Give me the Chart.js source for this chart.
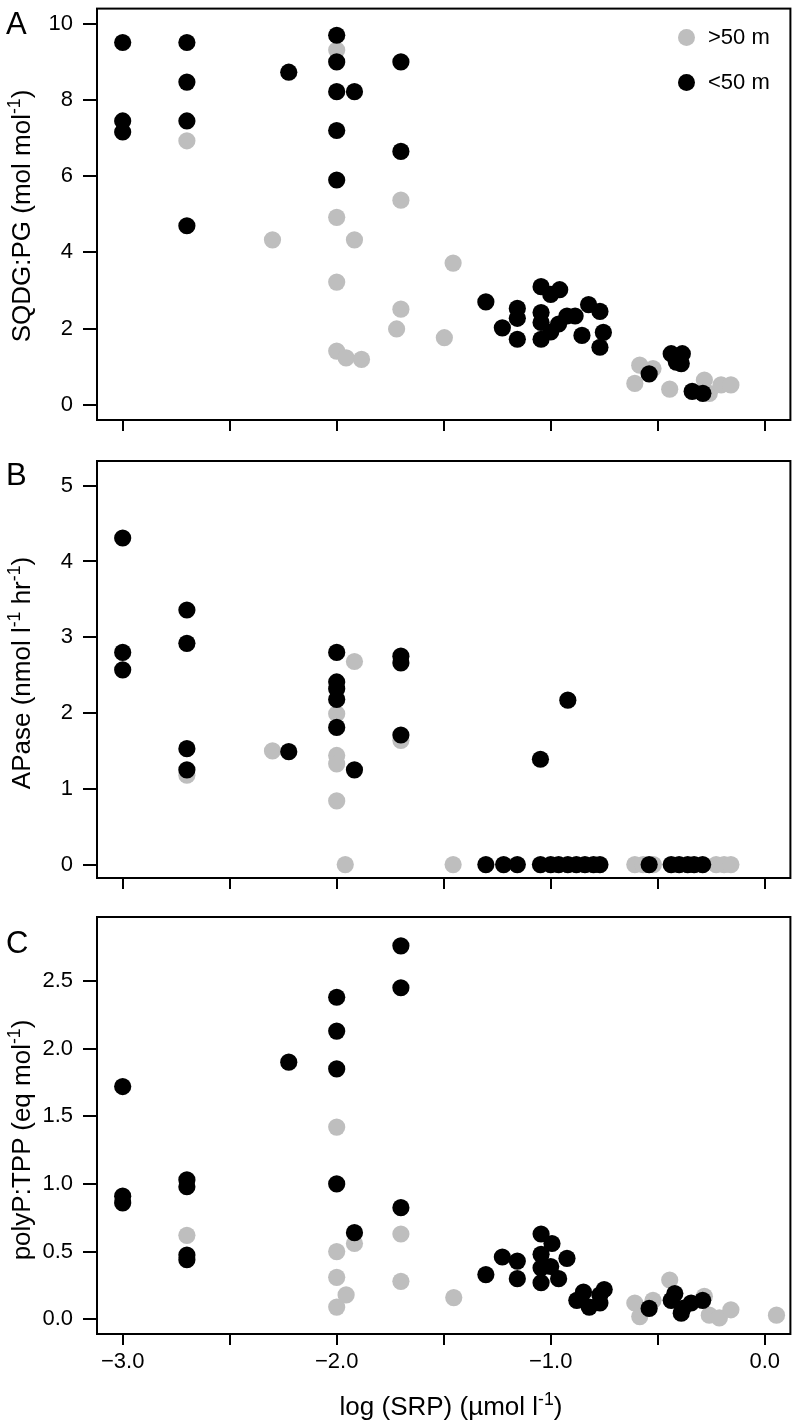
<!DOCTYPE html>
<html>
<head>
<meta charset="utf-8">
<script src="https://cdn.jsdelivr.net/npm/chart.js@4.4.1/dist/chart.umd.min.js"></script>
<style>
  body { margin: 0; background: #fff; }
  #wrap { position: relative; width: 799px; height: 1423px; font-family: 'Liberation Sans', Arial, sans-serif; color: #000; }
  canvas { position: absolute; left: 0; }
  .txt { position: absolute; white-space: nowrap; line-height: 1; }
  .ytitle { position: absolute; white-space: nowrap; line-height: 1; font-size: 26px; transform: translate(-50%, -50%) rotate(-90deg); }
  sup { font-size: 0.68em; vertical-align: 0; position: relative; top: -0.55em; }
  .dot { position: absolute; width: 17px; height: 17px; border-radius: 50%; }
</style>
</head>
<body>
<div id="wrap">
  <canvas id="chartA" width="799" height="440" style="top:0px"></canvas>
  <canvas id="chartB" width="799" height="458" style="top:440px"></canvas>
  <canvas id="chartC" width="799" height="525" style="top:898px"></canvas>

  <div class="txt" style="left:6px;top:8px;font-size:31px">A</div>
  <div class="txt" style="left:6px;top:459px;font-size:31px">B</div>
  <div class="txt" style="left:6px;top:927px;font-size:31px">C</div>

  <div class="ytitle" style="left:20.5px;top:216px">SQDG:PG (mol mol<sup>-1</sup>)</div>
  <div class="ytitle" style="left:20.5px;top:673px">APase (nmol l<sup>-1</sup> hr<sup>-1</sup>)</div>
  <div class="ytitle" style="left:20.5px;top:1140px">polyP:TPP (eq mol<sup>-1</sup>)</div>
  <div class="txt" style="left:451px;top:1393px;font-size:26px;transform:translateX(-50%)">log (SRP) (µmol l<sup>-1</sup>)</div>

  <div class="dot" style="left:677.5px;top:28.5px;background:#bebebe"></div>
  <div class="txt" style="left:708px;top:26.3px;font-size:22px">&gt;50 m</div>
  <div class="dot" style="left:677.5px;top:73.5px;background:#000"></div>
  <div class="txt" style="left:708px;top:71.3px;font-size:22px">&lt;50 m</div>
</div>

<script>
// x = log(SRP), y = value; grey = >50 m, black = <50 m
const xTicks = [-3, -2.5, -2, -1.5, -1, -0.5, 0]

const sqdgTicks = [0, 2, 4, 6, 8, 10]
const sqdgDeep = [
  [-2.7, 6.93], [-2.3, 4.33], [-2.0, 9.31], [-2.0, 4.92], [-1.917, 4.33], [-2.0, 3.22],
  [-2.0, 1.41], [-1.956, 1.23], [-1.884, 1.19], [-1.7, 5.37], [-1.7, 2.51], [-1.72, 1.99],
  [-1.456, 3.72], [-1.497, 1.76], [-0.584, 1.04], [-0.522, 0.95], [-0.607, 0.56],
  [-0.444, 0.41], [-0.282, 0.65], [-0.259, 0.30], [-0.204, 0.52], [-0.158, 0.52]
]
const sqdgShallow = [
  [-3, 9.51], [-3, 7.45], [-3, 7.16], [-2.7, 9.51], [-2.7, 8.47], [-2.7, 7.45], [-2.7, 4.70],
  [-2.224, 8.73], [-2.0, 9.70], [-2.0, 9.0], [-2.0, 8.22], [-1.917, 8.22], [-2.0, 7.20],
  [-2.0, 5.90], [-1.7, 9.0], [-1.7, 6.65],
  [-1.303, 2.70], [-1.045, 3.10], [-0.958, 3.02], [-1.0, 2.90], [-1.156, 2.53], [-1.156, 2.27],
  [-1.226, 2.02], [-1.156, 1.72], [-1.045, 2.42], [-1.045, 2.16], [-1.045, 1.72], [-1.0, 1.91],
  [-0.963, 2.12], [-0.924, 2.33], [-0.886, 2.33], [-0.823, 2.63], [-0.77, 2.45], [-0.854, 1.82],
  [-0.754, 1.90], [-0.77, 1.51],
  [-0.54, 0.81], [-0.437, 1.34], [-0.385, 1.34], [-0.413, 1.12], [-0.39, 1.08],
  [-0.339, 0.35], [-0.289, 0.30]
]

const apaseTicks = [0, 1, 2, 3, 4, 5]
const apaseDeep = [
  [-2.7, 1.18], [-2.3, 1.50], [-1.917, 2.68], [-2.0, 1.99], [-2.0, 1.44], [-2.0, 1.33],
  [-2.0, 0.84], [-1.96, 0], [-1.7, 1.64], [-1.456, 0], [-0.607, 0], [-0.568, 0], [-0.52, 0],
  [-0.227, 0], [-0.19, 0], [-0.158, 0]
]
const apaseShallow = [
  [-3, 4.31], [-3, 2.80], [-3, 2.57], [-2.7, 3.36], [-2.7, 2.92], [-2.7, 1.53], [-2.7, 1.25],
  [-2.224, 1.49], [-2.0, 2.80], [-2.0, 2.41], [-2.0, 2.32], [-2.0, 2.18], [-2.0, 1.81],
  [-1.917, 1.25], [-1.7, 2.75], [-1.7, 2.66], [-1.7, 1.71], [-1.048, 1.39], [-0.92, 2.17],
  [-1.303, 0], [-1.22, 0], [-1.156, 0], [-1.048, 0], [-1.0, 0], [-0.963, 0], [-0.92, 0],
  [-0.88, 0], [-0.84, 0], [-0.80, 0], [-0.77, 0],
  [-0.54, 0], [-0.437, 0], [-0.40, 0], [-0.36, 0], [-0.33, 0], [-0.29, 0]
]

const polypTicks = [0, 0.5, 1, 1.5, 2, 2.5]
const polypDeep = [
  [-2.7, 0.62], [-2.0, 1.42], [-1.917, 0.56], [-2.0, 0.50], [-2.0, 0.31], [-1.956, 0.18],
  [-2.0, 0.09], [-1.7, 0.63], [-1.7, 0.28], [-1.453, 0.16], [-0.444, 0.29], [-0.607, 0.12],
  [-0.584, 0.02], [-0.522, 0.14], [-0.282, 0.17], [-0.259, 0.03], [-0.212, 0.01],
  [-0.158, 0.07], [0.055, 0.03]
]
const polypShallow = [
  [-3, 1.72], [-3, 0.91], [-3, 0.86], [-2.7, 1.03], [-2.7, 0.98], [-2.7, 0.475], [-2.7, 0.44],
  [-2.224, 1.90], [-2.0, 2.38], [-2.0, 2.13], [-2.0, 1.85], [-2.0, 1.0], [-1.917, 0.64],
  [-1.7, 2.76], [-1.7, 2.45], [-1.7, 0.825],
  [-1.303, 0.33], [-1.226, 0.46], [-1.156, 0.43], [-1.156, 0.30], [-1.045, 0.63], [-0.994, 0.56],
  [-1.045, 0.48], [-1.045, 0.38], [-1.045, 0.27], [-1.0, 0.39], [-0.963, 0.30], [-0.924, 0.45],
  [-0.878, 0.14], [-0.847, 0.20], [-0.82, 0.09], [-0.77, 0.12], [-0.77, 0.18], [-0.75, 0.22],
  [-0.54, 0.08], [-0.42, 0.19], [-0.437, 0.14], [-0.383, 0.08], [-0.39, 0.045],
  [-0.344, 0.12], [-0.29, 0.14]
]

const font = { family: "'Liberation Sans', Arial, sans-serif", size: 22 }

// box round the plot region, like R's box()
const frame = {
  id: 'frame',
  afterDraw(chart) {
    const { ctx, chartArea: a } = chart
    ctx.save()
    ctx.strokeStyle = '#000'
    ctx.lineWidth = 2
    ctx.strokeRect(a.left, a.top, a.right - a.left, a.bottom - a.top)
    ctx.restore()
  }
}

function noPad(s) {
  s.paddingTop = 0
  s.paddingBottom = 0
  s.paddingLeft = 0
  s.paddingRight = 0
}

function makePanel(id, deep, shallow, yMin, yMax, yTicks, yFmt, padTop, xAxisH, xLabels) {
  const pts = arr => arr.map(([x, y]) => ({ x, y }))
  return new Chart(document.getElementById(id), {
    type: 'scatter',
    data: {
      datasets: [
        { label: '<50 m', data: pts(shallow), backgroundColor: '#000', borderWidth: 0, pointRadius: 8.6, pointHoverRadius: 8.6, order: 0 },
        { label: '>50 m', data: pts(deep), backgroundColor: '#bebebe', borderWidth: 0, pointRadius: 8.6, pointHoverRadius: 8.6, order: 1 }
      ]
    },
    options: {
      responsive: false,
      animation: false,
      layout: { padding: { top: padTop, right: 5, left: 0, bottom: 0 } },
      plugins: { legend: { display: false }, tooltip: { enabled: false } },
      scales: {
        x: {
          type: 'linear',
          min: -3.12,
          max: 0.12,
          afterBuildTicks: s => { s.ticks = xTicks.map(v => ({ value: v })) },
          afterFit: s => { s.height = xAxisH; noPad(s) },
          grid: { drawOnChartArea: false, color: '#000', lineWidth: 2, tickLength: 11 },
          border: { color: '#000', width: 2 },
          ticks: {
            display: xLabels,
            autoSkip: false,
            maxRotation: 0,
            padding: 4,
            color: '#000',
            font: font,
            callback: v => Number.isInteger(v) ? (v < 0 ? '\u2212' : '') + Math.abs(v).toFixed(1) : ''
          }
        },
        y: {
          type: 'linear',
          min: yMin,
          max: yMax,
          afterBuildTicks: s => { s.ticks = yTicks.map(v => ({ value: v })) },
          afterFit: s => { s.width = 97; noPad(s) },
          grid: { drawOnChartArea: false, color: '#000', lineWidth: 2, tickLength: 14 },
          border: { color: '#000', width: 2 },
          ticks: { autoSkip: false, padding: 10, color: '#000', font: font, callback: yFmt }
        }
      }
    },
    plugins: [frame]
  })
}

makePanel('chartA', sqdgDeep, sqdgShallow, -0.4, 10.4, sqdgTicks, v => String(v), 4, 20, false)
makePanel('chartB', apaseDeep, apaseShallow, -0.177, 5.326, apaseTicks, v => String(v), 21, 20, false)
makePanel('chartC', polypDeep, polypShallow, -0.109, 2.973, polypTicks, v => v.toFixed(1), 19, 89, true)
</script>
</body>
</html>
